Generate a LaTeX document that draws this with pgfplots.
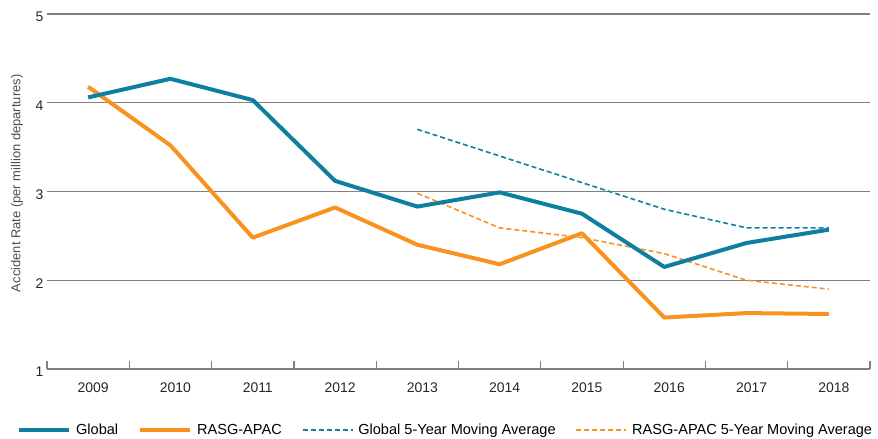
\documentclass[border=0pt]{standalone}
\usepackage{pgfplots}
\pgfplotsset{compat=1.18}
\usepackage{fontspec}
\setmainfont{Liberation Sans}
\definecolor{glob}{HTML}{0F7FA0}
\definecolor{rasg}{HTML}{F7931E}
\definecolor{gridc}{HTML}{808080}
\begin{document}
\begin{tikzpicture}
\begin{axis}[
  at={(0,0)}, anchor=south west,
  scale only axis, width=823bp, height=355bp,
  xmin=-0.5, xmax=9.5, ymin=1, ymax=5,
  axis x line*=bottom, axis y line*=left,
  y axis line style={draw=none},
  x axis line style={draw=gridc, line width=1.2bp, -},
  ytick={1,2,3,4,5}, ytick style={draw=none},
  ymajorgrids, grid style={draw=gridc, line width=1.2bp},
  xtick={0,...,9}, xticklabels={2009,2010,2011,2012,2013,2014,2015,2016,2017,2018},
  major x tick style={draw=none},
  minor xtick={-0.5,0.5,...,9.5},
  minor x tick style={draw=gridc, line width=1.2bp},
  minor tick length=8bp, tick align=inside,
  /pgf/number format/assume math mode=true,
  tick label style={font=\fontsize{14}{16}\selectfont, text=black!85},
  xticklabel style={yshift=-10bp, xshift=5bp},
  yticklabel style={yshift=-3bp},
  ylabel={Accident Rate (per million departures)},
  every axis y label/.style={at={(axis description cs:0,0.523)}, xshift=-30bp, rotate=90, anchor=center, font=\fontsize{13}{15}\selectfont, text=black!70},
  legend columns=4,
  legend style={draw=none, fill=none, inner sep=0pt, at={(axis description cs:-0.0365,-0.172)}, anchor=west,
    font=\fontsize{14.6}{16}\selectfont, /tikz/every even column/.append style={column sep=18bp},
    /tikz/every odd column/.append style={column sep=3bp}},
  legend image code/.code={\draw[#1] (0bp,0bp) -- (50bp,0bp);},
]
\addlegendimage{glob, line width=4bp}
\addlegendentry{Global}
\addlegendimage{rasg, line width=4bp}
\addlegendentry{RASG-APAC}
\addlegendimage{glob, line width=1.6bp, dash pattern=on 5bp off 3bp}
\addlegendentry{Global 5-Year Moving Average}
\addlegendimage{rasg, line width=1.6bp, dash pattern=on 5bp off 3bp}
\addlegendentry{RASG-APAC 5-Year Moving Average}

\addplot[forget plot, glob, line width=1.6bp, dash pattern=on 5bp off 3bp] coordinates {
(4,3.70) (5,3.40) (6,3.10) (7,2.80) (8,2.59) (9,2.59)};
\addplot[forget plot, rasg, line width=1.6bp, dash pattern=on 5bp off 3bp] coordinates {
(4,2.98) (5,2.59) (6,2.48) (7,2.30) (8,2.00) (9,1.90)};
\addplot[forget plot, rasg, line width=4bp, line join=round] coordinates {
(0,4.18) (1,3.52) (2,2.48) (3,2.82) (4,2.40) (5,2.18) (6,2.53) (7,1.58) (8,1.63) (9,1.62)};
\addplot[forget plot, glob, line width=4bp, line join=round] coordinates {
(0,4.06) (1,4.27) (2,4.03) (3,3.12) (4,2.83) (5,2.99) (6,2.75) (7,2.15) (8,2.42) (9,2.57)};
\end{axis}
\pgfresetboundingbox
\path (-47bp,-70bp) rectangle (831bp,369bp);
\end{tikzpicture}
\end{document}
